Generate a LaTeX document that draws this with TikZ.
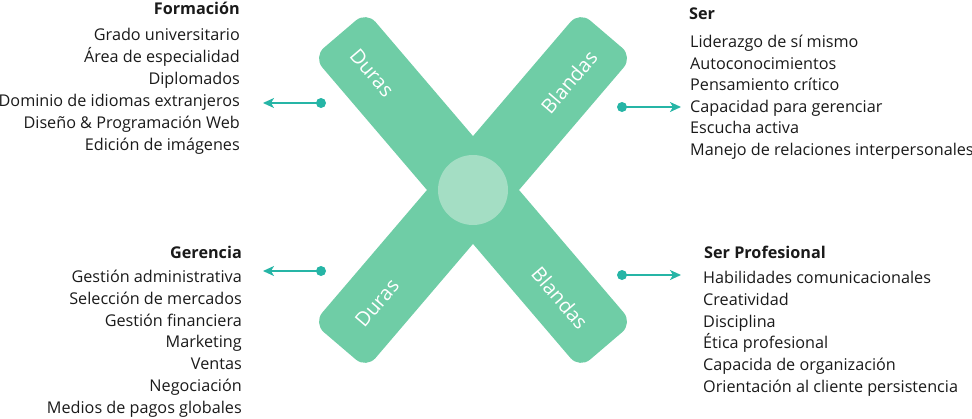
\documentclass[tikz,border=0pt]{standalone}
\usepackage{fontspec}
\setmainfont{Open Sans}
\usetikzlibrary{arrows.meta}
\definecolor{barc}{HTML}{6FCDA6}
\definecolor{circc}{HTML}{A4DEC4}
\definecolor{teal}{HTML}{26B5A6}
\definecolor{txt}{HTML}{1A1A1A}
\tikzset{
  bar/.style={rectangle, fill=barc, rounded corners=14pt, minimum width=410pt, minimum height=70pt, inner sep=0pt},
  barlabel/.style={text=white, font=\fontsize{20}{22}\selectfont, inner sep=0pt},
  dotnode/.style={circle, fill=teal, minimum size=10pt, inner sep=0pt},
  arr/.style={draw=teal, line width=1.6pt, -{Stealth[length=11pt, width=10pt, inset=3pt]}},
  item/.style={text=txt, font=\fontsize{16.2}{18}\selectfont, inner sep=0pt},
  title/.style={text=txt, font=\fontsize{16.2}{18}\selectfont\bfseries, inner sep=0pt}
}
\begin{document}
\begin{tikzpicture}[x=1pt, y=-1pt]
\useasboundingbox (0,0) rectangle (972,418);
% X shape
\node[bar, rotate=-49.5] (barA) at (473,190) {};
\node[bar, rotate=49.5] (barB) at (473,190) {};
\node[circle, fill=circc, minimum size=70pt, inner sep=0pt] (hub) at (473,190) {};
% bar labels
\node[barlabel, rotate=-49.5] (lTL) at (372,73) {Duras};
\node[barlabel, rotate=49.5] (lTR) at (569,82) {Blandas};
\node[barlabel, rotate=49.5] (lBL) at (377,303) {Duras};
\node[barlabel, rotate=-49.5] (lBR) at (560,298) {Blandas};
% connectors
\node[dotnode] (d1) at (321,103) {};
\coordinate (t1) at (263,103);
\draw[arr] (d1.center) -- (t1);
\node[dotnode] (d2) at (622,107) {};
\coordinate (t2) at (681,107);
\draw[arr] (d2.center) -- (t2);
\node[dotnode] (d3) at (321,271) {};
\coordinate (t3) at (263,271);
\draw[arr] (d3.center) -- (t3);
\node[dotnode] (d4) at (622,275) {};
\coordinate (t4) at (681,275);
\draw[arr] (d4.center) -- (t4);
% Formación
\node[title, anchor=base east] (tF) at (240,14.5) {Formación};
\foreach \t [count=\i] in {Grado universitario, Área de especialidad, Diplomados, Dominio de idiomas extranjeros, Diseño \& Programación Web, Edición de imágenes}
  \node[item, anchor=base east] (f\i) at (240,{40.5+(\i-1)*22}) {\t};
% Ser
\node[title, anchor=base west] (tS) at (689,19.5) {Ser};
\foreach \t [count=\i] in {Liderazgo de sí mismo, Autoconocimientos, Pensamiento crítico, Capacidad para gerenciar, Escucha activa, Manejo de relaciones interpersonales}
  \node[item, anchor=base west] (s\i) at (690,{47.5+(\i-1)*21.6}) {\t};
% Gerencia
\node[title, anchor=base east] (tG) at (242,258.5) {Gerencia};
\foreach \t [count=\i] in {Gestión administrativa, Selección de mercados, Gestión financiera, Marketing, Ventas, Negociación, Medios de pagos globales}
  \node[item, anchor=base east] (g\i) at (242,{282.5+(\i-1)*21.8}) {\t};
% Ser Profesional
\node[title, anchor=base west] (tP) at (704,258.5) {Ser Profesional};
\foreach \t [count=\i] in {Habilidades comunicacionales, Creatividad, Disciplina, Ética profesional, Capacida de organización, Orientación al cliente persistencia}
  \node[item, anchor=base west] (p\i) at (703,{283.5+(\i-1)*21.8}) {\t};
\end{tikzpicture}
\end{document}
